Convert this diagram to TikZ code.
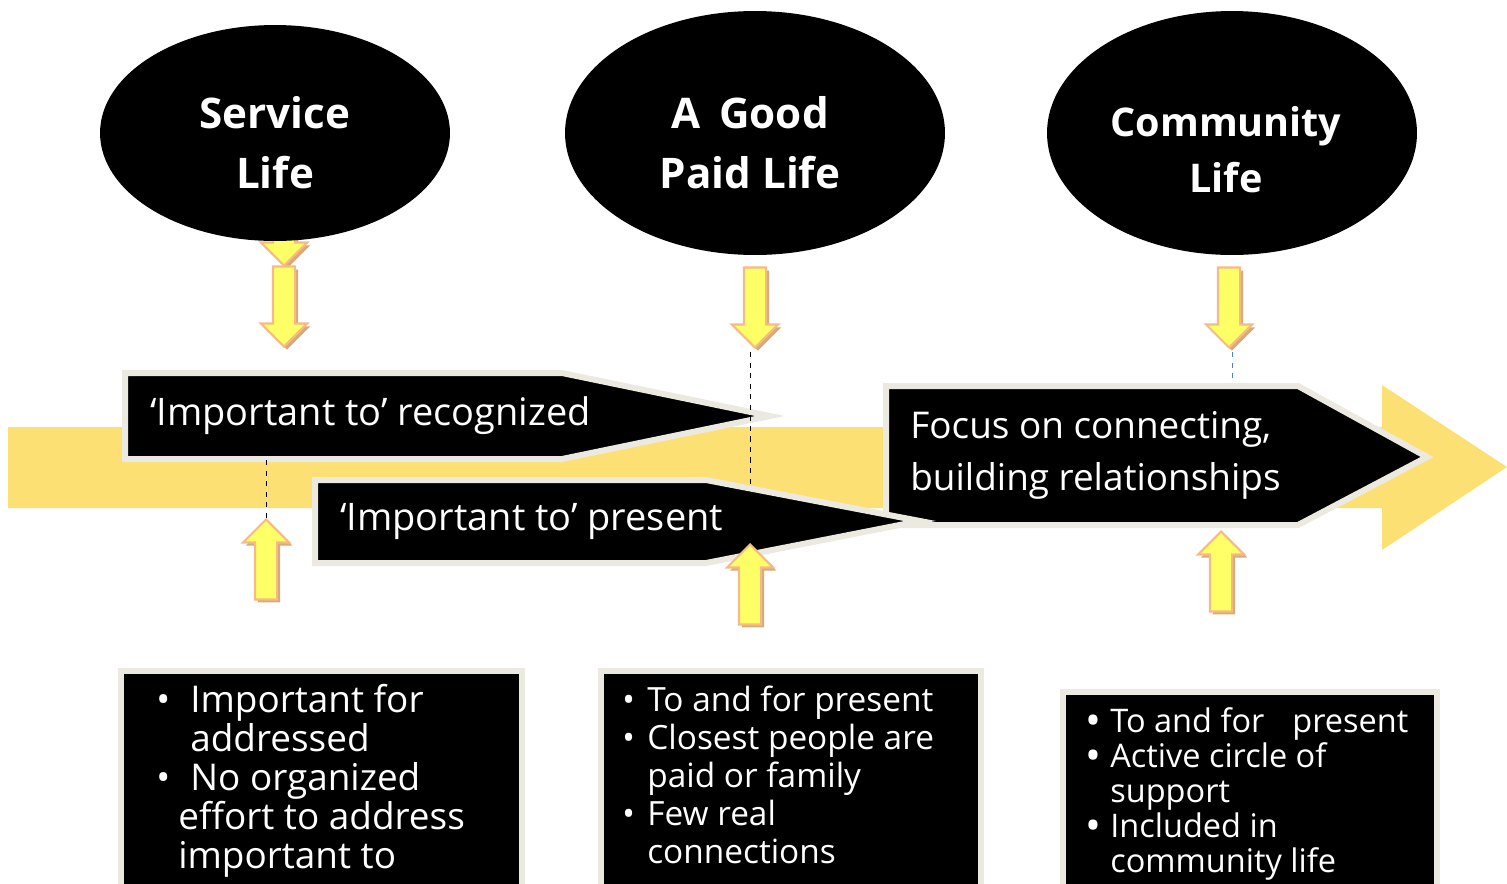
\documentclass[tikz,border=0pt]{standalone}
\usepackage{fontspec}
\setmainfont{Open Sans}
\usetikzlibrary{shapes.geometric, shapes.arrows, shadows, positioning, calc}

\definecolor{bandyellow}{RGB}{253,224,116}
\definecolor{arrowfill}{RGB}{255,255,102}
\definecolor{arrowedge}{RGB}{247,186,132}
\definecolor{arrowshade}{RGB}{214,170,125}
\definecolor{rim}{RGB}{236,234,224}
\definecolor{guideblue}{RGB}{79,129,189}

\begin{document}
\begin{tikzpicture}[x=0.02cm, y=-0.02cm,
    life/.style={ellipse, fill=black},
    lifetext/.style={text=white, font=\fontsize{24}{34}\selectfont\bfseries, align=center, inner sep=0pt},
    bar/.style={fill=black, draw=rim, line width=0.12cm, line join=miter},
    bartext/.style={text=white, font=\fontsize{21.6}{29.6}\selectfont, align=left, inner sep=0pt},
    listbox/.style={fill=black, draw=rim, line width=0.12cm, anchor=north west},
    listtext/.style={text=white, align=left, inner sep=0pt, anchor=north west},
    yarrow/.style={single arrow, fill=arrowfill, draw=arrowedge, line width=1.2pt,
        minimum height=1.6cm, minimum width=0.88cm, inner sep=0.2cm,
        single arrow head extend=0.24cm,
        drop shadow={shadow xshift=0.06cm, shadow yshift=-0.06cm, fill=arrowshade, opacity=1}},
    down/.style={yarrow, shape border rotate=270},
    up/.style={yarrow, shape border rotate=90},
    guide/.style={dashed, thin, black}]

\path[use as bounding box] (0,0) rectangle (1507,883);
\clip (0,0) rectangle (1507,883);

% timeline band
\fill[bandyellow] (8,427) -- (1382,427) -- (1382,385) -- (1507,467)
    -- (1382,550) -- (1382,508) -- (8,508) -- cycle;

% stage bars
\filldraw[bar] (125,373) -- (562,373) -- (770,416) -- (562,459)
    -- (125,459) coordinate (recSW) -- cycle;
\node[bartext, anchor=west] (rectext) at (150,416) {‘Important to’ recognized};

\filldraw[bar] (886,386) coordinate (focNW) -- (1298,386) -- (1427,457)
    -- (1298,525) -- (886,525) -- cycle;
\node[bartext, anchor=west, font=\fontsize{21}{29.6}\selectfont] (foctext) at (910,455) {Focus on connecting,\\building relationships};

\filldraw[bar] (315,480) -- (706,480) -- (920,521) -- (706,563) -- (315,563) -- cycle;
\coordinate (preTop) at (750,485);
\node[bartext, anchor=west] (pretext) at (340,522) {‘Important to’ present};

% arrows
\node[down] (downS0) at (284,220) {};
\node[down] (downS) at (284,301) {};
\node[down] (downG) at (755,302) {};
\node[down] (downC) at (1229,302) {};
\node[up] (upS) at (266,565) {};
\node[up] (upG) at (750,590) {};
\node[up] (upC) at (1221,577) {};

% guides
\draw[guide] (upS.tip) -- (upS.tip |- recSW);
\draw[guide] ($(upG.tip |- downG.tip)+(0,3)$) -- (upG.tip |- preTop);
\draw[guide, guideblue] ($(downC.tip)+(3,3)$) -- ($(downC.tip |- focNW)+(3,-3)$);

% the three lives
\node[life, minimum width=7cm, minimum height=4.32cm] (service) at (275,133) {};
\node[lifetext] (servicetext) at (275,143) {Service\\Life};
\node[life, minimum width=7.6cm, minimum height=4.88cm] (goodpaid) at (755,133) {};
\node[lifetext] (goodpaidtext) at (750,143) {A\hspace{0.45em}Good\\Paid Life};
\node[life, minimum width=7.4cm, minimum height=4.88cm] (community) at (1232,133) {};
\node[lifetext, font=\fontsize{22.5}{32}\selectfont\bfseries] (communitytext) at (1226,150) {Community\\Life};

% lists
\node[listbox, minimum width=8.02cm, minimum height=5cm] (box1) at (118,668) {};
\node[listtext, font=\fontsize{21}{22.2}\selectfont] (list1) at (156,684) {%
\makebox[0.68cm][l]{\textbullet}Important for\\
\hspace*{0.68cm}addressed\\
\makebox[0.68cm][l]{\textbullet}No organized\\
\hspace*{0.44cm}effort to address\\
\hspace*{0.44cm}important to};

\node[listbox, minimum width=7.6cm, minimum height=5cm] (box2) at (598,668) {};
\node[listtext, font=\fontsize{19}{21.6}\selectfont] (list2) at (622,686) {%
\makebox[0.5cm][l]{\textbullet}To and for present\\
\makebox[0.5cm][l]{\textbullet}Closest people are\\
\hspace*{0.5cm}paid or family\\
\makebox[0.5cm][l]{\textbullet}Few real\\
\hspace*{0.5cm}connections};

\node[listbox, minimum width=7.48cm, minimum height=5cm] (box3) at (1060,689) {};
\node[listtext, font=\fontsize{18.5}{19.9}\selectfont] (list3) at (1085,707) {%
\makebox[0.5cm][l]{\smash{\raisebox{-0.1em}{\scalebox{1.3}{\textbullet}}}}To and for\hspace{0.6em} present\\
\makebox[0.5cm][l]{\smash{\raisebox{-0.1em}{\scalebox{1.3}{\textbullet}}}}Active circle of\\
\hspace*{0.5cm}support\\
\makebox[0.5cm][l]{\smash{\raisebox{-0.1em}{\scalebox{1.3}{\textbullet}}}}Included in\\
\hspace*{0.5cm}community life};
\end{tikzpicture}
\end{document}
